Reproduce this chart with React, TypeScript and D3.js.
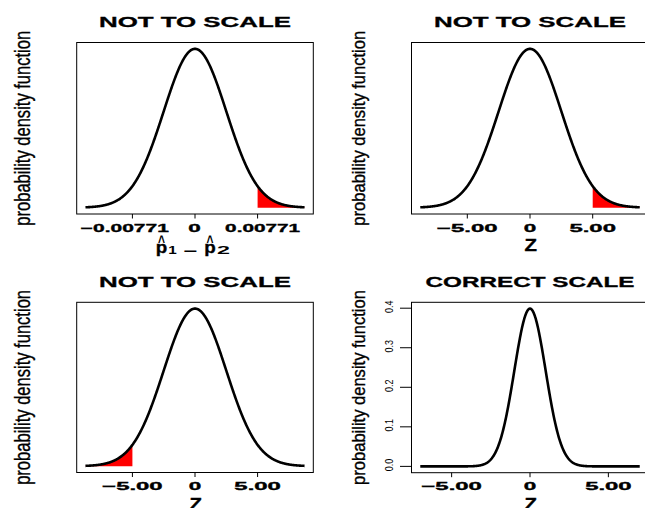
import React, { useLayoutEffect, useRef, useState } from "react";
import * as d3 from "d3";

// ---------- data ----------
const panelTitles = ["NOT TO SCALE", "NOT TO SCALE", "NOT TO SCALE", "CORRECT SCALE"];
const distMean = [0, 0, 0, 0];
const distSd = [1, 1, 1, 1];
const curveRanges: [number, number][] = [[-3.5, 3.5], [-3.5, 3.5], [-3.5, 3.5], [-7, 7]];
const shadedRanges: [number, number][] = [[2, 3.5], [2, 3.5], [-3.5, -2], [5, 7]];
const xTickValues = [[-2, 0, 2], [-2, 0, 2], [-2, 0, 2], [-5, 0, 5]];
const xTickLabels = [
  ["\u22120.00771", "0", "0.00771"],
  ["\u22125.00", "0", "5.00"],
  ["\u22125.00", "0", "5.00"],
  ["\u22125.00", "0", "5.00"],
];
const yTickValuesCorrect = [0, 0.1, 0.2, 0.3, 0.4];
const yTickLabelsCorrect = ["0.0", "0.1", "0.2", "0.3", "0.4"];
const yAxisLabel = "probability density function";
const xAxisTitles = ["p1-p2", "Z", "Z", "Z"];

// ---------- layout ----------
const W = 645;
const H = 508;
const FONT = "'Liberation Sans', Arial, Helvetica, sans-serif";
const boxes = [
  { l: 76.7, r: 313.3, t: 42.5, b: 214 },
  { l: 411.5, r: 648.5, t: 42.5, b: 214 },
  { l: 76.7, r: 313.3, t: 302.3, b: 472.5 },
  { l: 411.5, r: 648.5, t: 302.3, b: 472.7 },
];
const titleWidths: Record<string, number> = { "NOT TO SCALE": 192, "CORRECT SCALE": 209 };
const tickLabelWidths: Record<string, number> = {
  "\u22120.00771": 88,
  "0.00771": 75,
  "0": 12.5,
  "\u22125.00": 60.5,
  "5.00": 46.5,
};
const tickLabelDx = [[-7.6, -0.6, 5], [0, 0, 0], [0, 0, 0], [0, 0, 0]];
const ylabX = [29.5, 364.5, 29.5, 364.5];
const ylabSize = [22.5, 19, 22.5, 19];
const showYAxis = [false, false, false, true];

function dnorm(v: number, m: number, s: number) {
  const z = (v - m) / s;
  return Math.exp(-0.5 * z * z) / (s * Math.sqrt(2 * Math.PI));
}

type FitProps = {
  x: number;
  y: number;
  width?: number;
  rotate?: number;
  size: number;
  bold?: boolean;
  heavy?: number;
  anchor?: string;
  children: React.ReactNode;
};

function FitText({ x, y, width, rotate = 0, size, bold, heavy = 0, anchor = "middle", children }: FitProps) {
  const ref = useRef<SVGTextElement>(null);
  const [s, setS] = useState(1);
  useLayoutEffect(() => {
    if (ref.current && width) {
      const n = ref.current.getComputedTextLength();
      if (n > 0) setS(width / n);
    }
  }, [width, size, children]);
  return (
    <text
      ref={ref}
      transform={`translate(${x},${y}) rotate(${rotate}) scale(${s},1)`}
      textAnchor={anchor}
      fontFamily={FONT}
      fontWeight={bold ? "bold" : "normal"}
      fontSize={size}
      fill="#000"
      stroke={heavy > 0 ? "#000" : "none"}
      strokeWidth={heavy}
    >
      {children}
    </text>
  );
}

function Panel({ i }: { i: number }) {
  const box = boxes[i];
  const [lo, hi] = curveRanges[i];
  const pad = 0.04 * (hi - lo);
  const x = d3.scaleLinear().domain([lo - pad, hi + pad]).range([box.l, box.r]);
  const n = 600;
  const xs = d3.range(n + 1).map((k) => lo + ((hi - lo) * k) / n);
  const pts: [number, number][] = xs.map((v) => [v, dnorm(v, distMean[i], distSd[i])]);
  const ymax = d3.max(pts, (p) => p[1]) as number;
  const y = d3.scaleLinear().domain([-0.04 * ymax, 1.04 * ymax]).range([box.b, box.t]);

  const line = d3
    .line<[number, number]>()
    .x((d) => x(d[0]))
    .y((d) => y(d[1]));
  const [s0, s1] = shadedRanges[i];
  const shadePts: [number, number][] = d3
    .range(201)
    .map((k) => s0 + ((s1 - s0) * k) / 200)
    .map((v) => [v, dnorm(v, distMean[i], distSd[i])] as [number, number]);
  const area = d3
    .area<[number, number]>()
    .x((d) => x(d[0]))
    .y0(y(0))
    .y1((d) => y(d[1]));

  const cx = (box.l + box.r) / 2;
  const cy = (box.t + box.b) / 2;
  const title = panelTitles[i];

  return (
    <g>
      <path d={area(shadePts) || ""} fill="#ff0000" stroke="none" />
      <path d={line(pts) || ""} fill="none" stroke="#000" strokeWidth={2.6} strokeLinejoin="round" />
      <rect
        x={box.l}
        y={box.t}
        width={box.r - box.l}
        height={box.b - box.t}
        fill="none"
        stroke="#000"
        strokeWidth={1}
      />
      <FitText x={cx} y={box.t - 15.2} size={15} bold heavy={0.3} width={titleWidths[title]}>
        {title}
      </FitText>
      <FitText x={ylabX[i]} y={cy} rotate={-90} size={ylabSize[i]} heavy={0.35} width={195}>
        {yAxisLabel}
      </FitText>
      {xTickValues[i].map((v, k) => (
        <g key={k}>
          <line x1={x(v)} x2={x(v)} y1={box.b} y2={box.b + 4.5} stroke="#000" strokeWidth={1} />
          <FitText
            x={x(v) + tickLabelDx[i][k]}
            y={box.b + 17.7}
            size={11.5}
            bold
            heavy={0.35}
            width={tickLabelWidths[xTickLabels[i][k]]}
          >
            {xTickLabels[i][k]}
          </FitText>
        </g>
      ))}
      {showYAxis[i] && (
        <g>
          <line
            x1={box.l}
            x2={box.l}
            y1={y(yTickValuesCorrect[0])}
            y2={y(yTickValuesCorrect[yTickValuesCorrect.length - 1])}
            stroke="#000"
          />
          {yTickValuesCorrect.map((v, k) => (
            <g key={k}>
              <line x1={box.l - 11.5} x2={box.l} y1={y(v)} y2={y(v)} stroke="#000" strokeWidth={1} />
              <FitText x={box.l - 18.2} y={y(v) - 1.5} rotate={-90} size={11.6} width={12.5}>
                {yTickLabelsCorrect[k]}
              </FitText>
            </g>
          ))}
        </g>
      )}
      {xAxisTitles[i] === "Z" ? (
        <FitText x={cx + 0.8} y={box.b + 37} size={16.5} bold heavy={0.3} width={12.5}>
          Z
        </FitText>
      ) : (
        <g>
          <FitText x={cx - 33.6} y={box.b + 38.8} size={16} bold heavy={0.3} width={11.5}>
            p
          </FitText>
          <FitText x={cx - 33.6} y={box.b + 33} size={16} bold width={7}>
            ^
          </FitText>
          <FitText x={cx - 22.4} y={box.b + 40} size={11} bold width={8.5}>
            1
          </FitText>
          <FitText x={cx - 4.9} y={box.b + 42} size={14} bold width={14}>
            {"\u2212"}
          </FitText>
          <FitText x={cx + 15.1} y={box.b + 38.8} size={16} bold heavy={0.3} width={11.5}>
            p
          </FitText>
          <FitText x={cx + 15.1} y={box.b + 33} size={16} bold width={7}>
            ^
          </FitText>
          <FitText x={cx + 28.4} y={box.b + 40} size={11} bold width={13}>
            2
          </FitText>
        </g>
      )}
    </g>
  );
}

export default function App() {
  return (
    <svg
      width={W}
      height={H}
      viewBox={`0 0 ${W} ${H}`}
      style={{ position: "absolute", left: 0, top: 0, background: "#fff" }}
    >
      <rect x={0} y={0} width={W} height={H} fill="#fff" />
      {[0, 1, 2, 3].map((i) => (
        <Panel key={i} i={i} />
      ))}
    </svg>
  );
}
